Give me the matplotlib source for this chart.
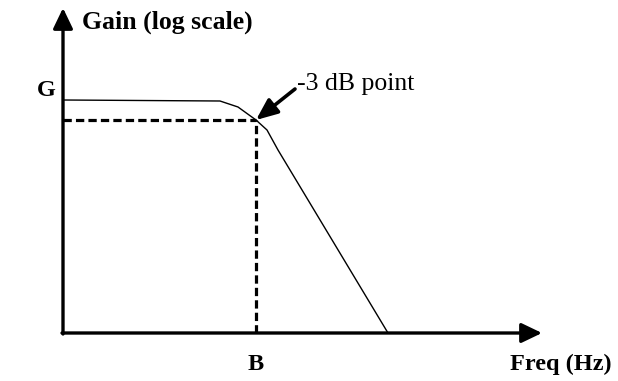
import matplotlib.pyplot as plt

plt.rcParams["font.family"] = ["Liberation Serif", "DejaVu Serif"]

# response curve, in axis units (origin at the corner of the axes)
freq = [0, 157, 175, 193, 204, 215, 325]
gain = [233, 232, 226, 213, 203, 183, 0]

# -3 dB point and label
b_freq = 193
b_gain = 213
axis_len_x = 479
axis_len_y = 325

fig = plt.figure(figsize=(6.18, 3.81), dpi=100)
ax = fig.add_axes([0, 0, 1, 1])
ax.set_xlim(-63, 555)
ax.set_ylim(-48, 333)
ax.axis("off")

# axes with arrow heads
arrow_kw = dict(arrowstyle="-|>,head_length=1.25,head_width=0.6", lw=2.4,
                color="black", mutation_scale=10, shrinkA=0, shrinkB=0)
ax.annotate("", xy=(0, axis_len_y), xytext=(0, -1), arrowprops=arrow_kw)
ax.annotate("", xy=(axis_len_x, 0), xytext=(-1, 0), arrowprops=arrow_kw)

# response
ax.plot(freq, gain, color="black", lw=1.0, solid_joinstyle="round")

# dashed guides
ax.plot([0, b_freq], [b_gain, b_gain], color="black", lw=2.3,
        linestyle=(0, (2.6, 1.3)))
ax.plot([b_freq, b_freq], [0, b_gain], color="black", lw=2.3,
        linestyle=(0, (2.6, 1.3)))

# -3 dB annotation
ax.annotate("", xy=(b_freq, b_gain), xytext=(232, 244),
            arrowprops=dict(arrowstyle="-|>,head_length=1.3,head_width=0.55",
                            lw=2.6, color="black", mutation_scale=10,
                            shrinkA=0, shrinkB=0))
ax.text(234, 249, "-3 dB point", fontsize=18.5, ha="left", va="center")

ax.text(19, 311, "Gain (log scale)", fontsize=18.5, fontweight="bold",
        ha="left", va="center")
ax.text(-17, 242, "G", fontsize=17.5, fontweight="bold", ha="center", va="center")
ax.text(b_freq, -31, "B", fontsize=17.5, fontweight="bold", ha="center", va="center")
ax.text(498, -31, "Freq (Hz)", fontsize=17.5, fontweight="bold", ha="center",
        va="center")

fig.savefig("out.png", dpi=100)
